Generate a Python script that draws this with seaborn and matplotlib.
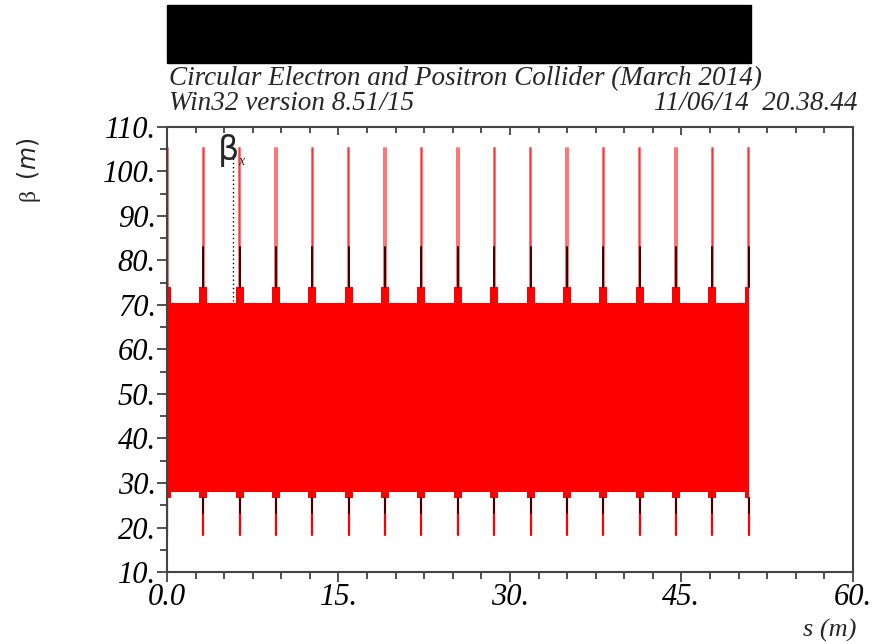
import numpy as np
import pandas as pd
import matplotlib
matplotlib.use("Agg")
import matplotlib.pyplot as plt
from matplotlib.patches import Rectangle
import seaborn as sns

sns.set_theme(style="white")
plt.rcParams["font.family"] = ["Liberation Serif", "DejaVu Serif"]

# ---------------------------------------------------------
# Data
# ---------------------------------------------------------
spike_s = [0.0, 3.18, 6.36, 9.54, 12.72, 15.9, 19.08, 22.26, 25.44,
           28.62, 31.8, 34.98, 38.16, 41.34, 44.52, 47.7, 50.88]
s_end = 50.88
band_low, band_high = 28.0, 70.5          # dense FODO oscillation envelope
shoulder_low, shoulder_high = 26.6, 74.0  # around each insertion
spike_max, spike_min = 105.3, 18.3
dark_top, dark_bottom = 83.0, 23.2

x_ticks = [0, 15, 30, 45, 60]
x_ticklabels = ["0.0", "15.", "30.", "45.", "60."]
y_ticks = [10, 20, 30, 40, 50, 60, 70, 80, 90, 100, 110]
y_ticklabels = ["10.", "20.", "30.", "40.", "50.", "60.", "70.", "80.", "90.", "100.", "110."]

legend_s = 5.77

# ---------------------------------------------------------
# Figure
# ---------------------------------------------------------
fig = plt.figure(figsize=(8.77, 6.44), dpi=100)
ax = fig.add_axes([0.1904, 0.1118, 0.7822, 0.691])

# solid band
ax.fill_between([0, s_end], band_low, band_high, color="red", lw=0)
for s in spike_s:
    lo, hi = max(s - 0.35, 0), min(s + 0.35, s_end)
    ax.fill_between([lo, hi], shoulder_low, shoulder_high, color="red", lw=0)

# spikes as long-format table
rows = []
for i, s in enumerate(spike_s):
    for k, off in enumerate([-0.06, 0.06]):
        xs = min(max(s + off, 0.02), s_end)
        rows.append(dict(unit=f"t{i}{k}", s=xs, beta=shoulder_high, part="top"))
        rows.append(dict(unit=f"t{i}{k}", s=xs, beta=spike_max, part="top"))
    xs = min(max(s, 0.02), s_end)
    rows.append(dict(unit=f"b{i}", s=xs, beta=shoulder_low, part="bot"))
    rows.append(dict(unit=f"b{i}", s=xs, beta=spike_min, part="bot"))
    rows.append(dict(unit=f"dt{i}", s=xs, beta=shoulder_high, part="dark"))
    rows.append(dict(unit=f"dt{i}", s=xs, beta=dark_top, part="dark"))
    rows.append(dict(unit=f"db{i}", s=xs, beta=shoulder_low, part="dark"))
    rows.append(dict(unit=f"db{i}", s=xs, beta=dark_bottom, part="dark"))
spikes = pd.DataFrame(rows)

sns.lineplot(data=spikes[spikes.part == "top"], x="s", y="beta", units="unit",
             estimator=None, sort=False, color="red", alpha=0.55, lw=1.4, ax=ax)
sns.lineplot(data=spikes[spikes.part == "bot"], x="s", y="beta", units="unit",
             estimator=None, sort=False, color="red", lw=1.6, ax=ax)
sns.lineplot(data=spikes[spikes.part == "dark"], x="s", y="beta", units="unit",
             estimator=None, sort=False, color="#3a0000", lw=1.4, ax=ax)

# legend marker: beta_x with dotted line
ax.plot([legend_s, legend_s], [104.0, 71.0], color="black", lw=1, ls=(0, (1, 2)))
ax.text(legend_s - 0.4, 104.8, "β", fontsize=24, family=["DejaVu Sans"],
        ha="center", va="center")
ax.text(legend_s + 0.45, 102.3, "x", fontsize=10, style="italic", ha="left", va="center")

# axes
ax.set_xlim(0, 60)
ax.set_ylim(10, 110)
ax.set_xlabel("")
ax.set_ylabel("")
ax.set_xticks(x_ticks)
ax.set_xticklabels(x_ticklabels, fontsize=22, style="italic")
ax.set_xticks(np.arange(0, 60.1, 2.5), minor=True)
ax.set_yticks(y_ticks)
ax.set_yticklabels(y_ticklabels, fontsize=22, style="italic")
ax.set_yticks(np.arange(10, 110.1, 5), minor=True)
ax.tick_params(axis="both", which="both", direction="out", colors="#333333",
               labelcolor="black", width=1.2, bottom=True, left=True,
               top=False, right=False)
ax.tick_params(axis="both", which="major", length=7, pad=1)
ax.tick_params(axis="both", which="minor", length=5)
for sp in ax.spines.values():
    sp.set_visible(True)
    sp.set_color("#444444")
    sp.set_linewidth(1.5)

top = ax.secondary_xaxis("top")
top.set_xticks(x_ticks)
top.set_xticklabels([])
top.set_xticks(np.arange(0, 60.1, 2.5), minor=True)
top.tick_params(which="both", direction="in", colors="#333333", width=1.2, top=True)
top.tick_params(which="major", length=6)
top.tick_params(which="minor", length=4)

# header
fig.patches.append(Rectangle((167 / 877, 1 - 63 / 644), (751 - 167) / 877, 58 / 644,
                             transform=fig.transFigure, color="black", zorder=5))
fig.text(169 / 877, 1 - 79 / 644, "Circular Electron and Positron Collider (March 2014)",
         fontsize=19.5, style="italic", ha="left", va="center")
fig.text(169 / 877, 1 - 103 / 644, "Win32 version 8.51/15",
         fontsize=19.5, style="italic", ha="left", va="center")
fig.text(858 / 877, 1 - 103 / 644, "11/06/14  20.38.44",
         fontsize=19.5, style="italic", ha="right", va="center")

fig.text(29 / 877, 1 - 170 / 644, "β  $\\mathit{(m)}$", fontsize=17, rotation=90,
         ha="center", va="center")
fig.text(830 / 877, 1 - 630 / 644, "s (m)", fontsize=19, style="italic",
         ha="center", va="center")

fig.savefig("out.png", dpi=100)
